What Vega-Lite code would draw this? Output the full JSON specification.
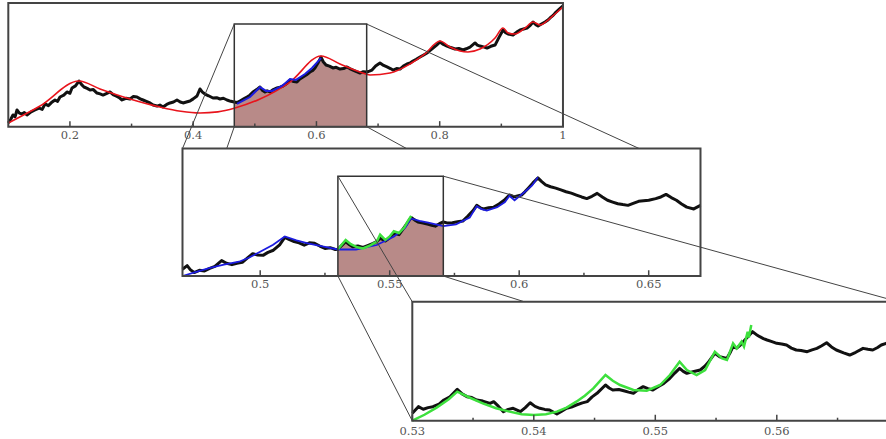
{
"$schema": "https://vega.github.io/schema/vega-lite/v6.json",
"width": 886, "height": 439, "autosize": "none", "padding": 0, "background": "white",
"config": {"view": {"stroke": null}, "text": {"font": "DejaVu Serif", "fontSize": 11.5, "color": "#555555", "baseline": "middle"}},
"datasets": {
"frame1": [{"x": 0.1, "x2": 1, "y": 0, "y2": 1}],
"box1": [{"x": 0.4667, "x2": 0.6815, "y": 0, "y2": 0.83}],
"frame2": [{"x": 0.47, "x2": 0.67, "y": 0, "y2": 1}],
"box2": [{"x": 0.53, "x2": 0.5707, "y": 0, "y2": 0.783}],
"frame3": [{"x": 0.53, "x2": 0.5702, "y": 0, "y2": 1}],
"lines1": [{"x": 0.4667, "y": 0.83, "x2": 0.3827, "y2": -0.1762}, {"x": 0.4667, "y": 0, "x2": 0.3827, "y2": -1.207}, {"x": 0.6815, "y": 0, "x2": 1.1235, "y2": -1.207}, {"x": 0.6815, "y": 0.83, "x2": 1.1235, "y2": -0.1762}],
"lines2": [{"x": 0.53, "y": 0.783, "x2": 0.5587, "y2": -0.2016}, {"x": 0.53, "y": 0, "x2": 0.5587, "y2": -1.1349}, {"x": 0.5707, "y": 0, "x2": 0.7463, "y2": -1.1349}, {"x": 0.5707, "y": 0.783, "x2": 0.7463, "y2": -0.2016}],
"lab1": [{"x": 0.2, "label": "0.2"}, {"x": 0.4, "label": "0.4"}, {"x": 0.6, "label": "0.6"}, {"x": 0.8, "label": "0.8"}, {"x": 1, "label": "1"}],
"min1": [{"x": 0.3}, {"x": 0.5}, {"x": 0.7}, {"x": 0.9}],
"lab2": [{"x": 0.5, "label": "0.5"}, {"x": 0.55, "label": "0.55"}, {"x": 0.6, "label": "0.6"}, {"x": 0.65, "label": "0.65"}],
"min2": [{"x": 0.525}, {"x": 0.575}, {"x": 0.625}],
"lab3": [{"x": 0.53, "label": "0.53"}, {"x": 0.54, "label": "0.54"}, {"x": 0.55, "label": "0.55"}, {"x": 0.56, "label": "0.56"}],
"min3": [{"x": 0.535}, {"x": 0.545}, {"x": 0.555}, {"x": 0.565}],
"p1k": [{"x":0.1,"y":0.03},{"x":0.104,"y":0.06},{"x":0.1076,"y":0.095},{"x":0.111,"y":0.08},{"x":0.1141,"y":0.135},{"x":0.118,"y":0.11},{"x":0.1222,"y":0.103},{"x":0.126,"y":0.115},{"x":0.1303,"y":0.095},{"x":0.137,"y":0.12},{"x":0.1433,"y":0.135},{"x":0.15,"y":0.15},{"x":0.155,"y":0.14},{"x":0.1596,"y":0.184},{"x":0.165,"y":0.17},{"x":0.17,"y":0.195},{"x":0.1758,"y":0.216},{"x":0.18,"y":0.205},{"x":0.1839,"y":0.24},{"x":0.19,"y":0.255},{"x":0.1952,"y":0.281},{"x":0.2,"y":0.27},{"x":0.2034,"y":0.313},{"x":0.209,"y":0.33},{"x":0.2147,"y":0.369},{"x":0.219,"y":0.34},{"x":0.2228,"y":0.321},{"x":0.228,"y":0.31},{"x":0.2326,"y":0.297},{"x":0.238,"y":0.3},{"x":0.2439,"y":0.272},{"x":0.249,"y":0.265},{"x":0.2537,"y":0.256},{"x":0.26,"y":0.27},{"x":0.265,"y":0.281},{"x":0.27,"y":0.26},{"x":0.2747,"y":0.248},{"x":0.28,"y":0.235},{"x":0.2845,"y":0.216},{"x":0.291,"y":0.23},{"x":0.2975,"y":0.224},{"x":0.303,"y":0.245},{"x":0.3088,"y":0.24},{"x":0.314,"y":0.225},{"x":0.3186,"y":0.216},{"x":0.324,"y":0.205},{"x":0.3299,"y":0.192},{"x":0.335,"y":0.175},{"x":0.3413,"y":0.167},{"x":0.346,"y":0.175},{"x":0.351,"y":0.159},{"x":0.357,"y":0.18},{"x":0.3624,"y":0.192},{"x":0.368,"y":0.2},{"x":0.3737,"y":0.216},{"x":0.379,"y":0.2},{"x":0.3835,"y":0.192},{"x":0.389,"y":0.2},{"x":0.3948,"y":0.208},{"x":0.4,"y":0.225},{"x":0.4062,"y":0.248},{"x":0.411,"y":0.305},{"x":0.415,"y":0.28},{"x":0.4191,"y":0.264},{"x":0.425,"y":0.25},{"x":0.4321,"y":0.232},{"x":0.438,"y":0.235},{"x":0.4435,"y":0.224},{"x":0.449,"y":0.23},{"x":0.4548,"y":0.216},{"x":0.461,"y":0.205},{"x":0.4667,"y":0.2},{"x":0.471,"y":0.195},{"x":0.4759,"y":0.208},{"x":0.482,"y":0.225},{"x":0.4873,"y":0.24},{"x":0.492,"y":0.255},{"x":0.497,"y":0.281},{"x":0.503,"y":0.3},{"x":0.5084,"y":0.321},{"x":0.512,"y":0.295},{"x":0.5165,"y":0.281},{"x":0.52,"y":0.29},{"x":0.5246,"y":0.281},{"x":0.53,"y":0.3},{"x":0.536,"y":0.313},{"x":0.541,"y":0.32},{"x":0.5457,"y":0.329},{"x":0.552,"y":0.35},{"x":0.5571,"y":0.378},{"x":0.563,"y":0.365},{"x":0.5684,"y":0.361},{"x":0.573,"y":0.385},{"x":0.5782,"y":0.402},{"x":0.584,"y":0.42},{"x":0.5895,"y":0.442},{"x":0.594,"y":0.455},{"x":0.5976,"y":0.475},{"x":0.603,"y":0.52},{"x":0.6074,"y":0.563},{"x":0.611,"y":0.525},{"x":0.6155,"y":0.499},{"x":0.621,"y":0.49},{"x":0.6268,"y":0.475},{"x":0.632,"y":0.48},{"x":0.6382,"y":0.466},{"x":0.644,"y":0.47},{"x":0.6495,"y":0.483},{"x":0.654,"y":0.47},{"x":0.6593,"y":0.458},{"x":0.665,"y":0.445},{"x":0.6706,"y":0.434},{"x":0.676,"y":0.445},{"x":0.6815,"y":0.442},{"x":0.686,"y":0.45},{"x":0.6901,"y":0.458},{"x":0.696,"y":0.49},{"x":0.7031,"y":0.515},{"x":0.709,"y":0.495},{"x":0.7145,"y":0.483},{"x":0.72,"y":0.47},{"x":0.7242,"y":0.458},{"x":0.73,"y":0.47},{"x":0.7356,"y":0.466},{"x":0.741,"y":0.49},{"x":0.7469,"y":0.507},{"x":0.752,"y":0.515},{"x":0.7566,"y":0.531},{"x":0.762,"y":0.545},{"x":0.768,"y":0.563},{"x":0.774,"y":0.58},{"x":0.7794,"y":0.596},{"x":0.784,"y":0.615},{"x":0.7891,"y":0.636},{"x":0.795,"y":0.66},{"x":0.8005,"y":0.685},{"x":0.806,"y":0.665},{"x":0.8118,"y":0.652},{"x":0.818,"y":0.64},{"x":0.8248,"y":0.628},{"x":0.831,"y":0.632},{"x":0.8378,"y":0.62},{"x":0.843,"y":0.63},{"x":0.8492,"y":0.644},{"x":0.8573,"y":0.677},{"x":0.861,"y":0.66},{"x":0.8654,"y":0.652},{"x":0.871,"y":0.645},{"x":0.8768,"y":0.636},{"x":0.883,"y":0.65},{"x":0.8898,"y":0.66},{"x":0.896,"y":0.72},{"x":0.9028,"y":0.782},{"x":0.907,"y":0.76},{"x":0.9109,"y":0.749},{"x":0.919,"y":0.741},{"x":0.925,"y":0.765},{"x":0.9304,"y":0.782},{"x":0.936,"y":0.79},{"x":0.9417,"y":0.798},{"x":0.947,"y":0.82},{"x":0.9515,"y":0.846},{"x":0.956,"y":0.825},{"x":0.9596,"y":0.814},{"x":0.965,"y":0.83},{"x":0.9709,"y":0.846},{"x":0.975,"y":0.86},{"x":0.979,"y":0.879},{"x":0.984,"y":0.9},{"x":0.9888,"y":0.927},{"x":0.994,"y":0.95},{"x":1.0,"y":0.976}],
"p1r": [{"x":0.1,"y":0.03},{"x":0.1514,"y":0.167},{"x":0.2147,"y":0.369},{"x":0.2488,"y":0.305},{"x":0.2975,"y":0.224},{"x":0.3461,"y":0.159},{"x":0.38,"y":0.125},{"x":0.411,"y":0.111},{"x":0.44,"y":0.12},{"x":0.4678,"y":0.151},{"x":0.5084,"y":0.224},{"x":0.5571,"y":0.361},{"x":0.6074,"y":0.572},{"x":0.6382,"y":0.507},{"x":0.6706,"y":0.442},{"x":0.6869,"y":0.418},{"x":0.7193,"y":0.434},{"x":0.7518,"y":0.507},{"x":0.7761,"y":0.588},{"x":0.8005,"y":0.693},{"x":0.8167,"y":0.644},{"x":0.8329,"y":0.612},{"x":0.8459,"y":0.604},{"x":0.8654,"y":0.628},{"x":0.8898,"y":0.717},{"x":0.9028,"y":0.798},{"x":0.9109,"y":0.757},{"x":0.9222,"y":0.749},{"x":0.9385,"y":0.798},{"x":0.9515,"y":0.846},{"x":0.9628,"y":0.822},{"x":0.9758,"y":0.862},{"x":0.9871,"y":0.911},{"x":1.0,"y":0.968}],
"p1b": [{"x":0.471,"y":0.184},{"x":0.4921,"y":0.24},{"x":0.5084,"y":0.321},{"x":0.5181,"y":0.289},{"x":0.5279,"y":0.289},{"x":0.5441,"y":0.329},{"x":0.5571,"y":0.386},{"x":0.5668,"y":0.378},{"x":0.5814,"y":0.426},{"x":0.5928,"y":0.475},{"x":0.6074,"y":0.555}],
"p2k": [{"x":0.47,"y":0.053},{"x":0.4718,"y":0.081},{"x":0.473,"y":0.05},{"x":0.4745,"y":0.027},{"x":0.4765,"y":0.045},{"x":0.4785,"y":0.04},{"x":0.4805,"y":0.06},{"x":0.4825,"y":0.075},{"x":0.4851,"y":0.121},{"x":0.487,"y":0.1},{"x":0.4891,"y":0.089},{"x":0.491,"y":0.1},{"x":0.4931,"y":0.107},{"x":0.495,"y":0.14},{"x":0.4971,"y":0.175},{"x":0.499,"y":0.165},{"x":0.5011,"y":0.162},{"x":0.503,"y":0.185},{"x":0.5051,"y":0.202},{"x":0.5075,"y":0.245},{"x":0.5095,"y":0.302},{"x":0.5113,"y":0.285},{"x":0.5131,"y":0.27},{"x":0.515,"y":0.26},{"x":0.517,"y":0.242},{"x":0.519,"y":0.26},{"x":0.521,"y":0.256},{"x":0.523,"y":0.235},{"x":0.525,"y":0.216},{"x":0.527,"y":0.222},{"x":0.529,"y":0.208},{"x":0.53,"y":0.21},{"x":0.5315,"y":0.24},{"x":0.533,"y":0.27},{"x":0.5345,"y":0.245},{"x":0.5357,"y":0.229},{"x":0.5377,"y":0.235},{"x":0.5397,"y":0.224},{"x":0.5417,"y":0.24},{"x":0.5436,"y":0.256},{"x":0.545,"y":0.27},{"x":0.5463,"y":0.296},{"x":0.5483,"y":0.275},{"x":0.55,"y":0.3},{"x":0.5516,"y":0.337},{"x":0.5536,"y":0.324},{"x":0.5552,"y":0.37},{"x":0.5569,"y":0.418},{"x":0.5583,"y":0.459},{"x":0.5596,"y":0.44},{"x":0.5609,"y":0.424},{"x":0.5629,"y":0.415},{"x":0.5649,"y":0.405},{"x":0.5662,"y":0.398},{"x":0.5676,"y":0.391},{"x":0.5692,"y":0.41},{"x":0.5707,"y":0.424},{"x":0.5725,"y":0.415},{"x":0.5742,"y":0.418},{"x":0.5762,"y":0.425},{"x":0.5782,"y":0.431},{"x":0.5802,"y":0.47},{"x":0.5822,"y":0.513},{"x":0.5836,"y":0.554},{"x":0.585,"y":0.535},{"x":0.5862,"y":0.526},{"x":0.5882,"y":0.535},{"x":0.5902,"y":0.54},{"x":0.5922,"y":0.565},{"x":0.5942,"y":0.594},{"x":0.5962,"y":0.635},{"x":0.5982,"y":0.621},{"x":0.6009,"y":0.635},{"x":0.6022,"y":0.66},{"x":0.6035,"y":0.689},{"x":0.6053,"y":0.73},{"x":0.6072,"y":0.769},{"x":0.6087,"y":0.74},{"x":0.6102,"y":0.715},{"x":0.6121,"y":0.7},{"x":0.6141,"y":0.689},{"x":0.6161,"y":0.675},{"x":0.6181,"y":0.661},{"x":0.6201,"y":0.65},{"x":0.6221,"y":0.635},{"x":0.6241,"y":0.62},{"x":0.6261,"y":0.607},{"x":0.6281,"y":0.625},{"x":0.6301,"y":0.648},{"x":0.6321,"y":0.62},{"x":0.6341,"y":0.594},{"x":0.6361,"y":0.58},{"x":0.6381,"y":0.567},{"x":0.64,"y":0.56},{"x":0.642,"y":0.554},{"x":0.644,"y":0.57},{"x":0.6461,"y":0.586},{"x":0.648,"y":0.59},{"x":0.65,"y":0.594},{"x":0.6527,"y":0.607},{"x":0.6547,"y":0.62},{"x":0.6567,"y":0.64},{"x":0.6587,"y":0.615},{"x":0.6607,"y":0.594},{"x":0.6627,"y":0.565},{"x":0.6647,"y":0.54},{"x":0.6674,"y":0.526},{"x":0.67,"y":0.554}],
"p2b": [{"x":0.47,"y":0.0},{"x":0.475,"y":0.03},{"x":0.4806,"y":0.063},{"x":0.486,"y":0.09},{"x":0.4918,"y":0.112},{"x":0.4958,"y":0.145},{"x":0.4998,"y":0.188},{"x":0.505,"y":0.245},{"x":0.5095,"y":0.31},{"x":0.514,"y":0.28},{"x":0.5184,"y":0.256},{"x":0.525,"y":0.229},{"x":0.53,"y":0.208},{"x":0.537,"y":0.208},{"x":0.545,"y":0.243},{"x":0.5517,"y":0.31},{"x":0.556,"y":0.38},{"x":0.5582,"y":0.451},{"x":0.5615,"y":0.432},{"x":0.5649,"y":0.418},{"x":0.5707,"y":0.391},{"x":0.5756,"y":0.405},{"x":0.5809,"y":0.459},{"x":0.5836,"y":0.548},{"x":0.5855,"y":0.525},{"x":0.5875,"y":0.513},{"x":0.5915,"y":0.54},{"x":0.5945,"y":0.58},{"x":0.5962,"y":0.629},{"x":0.5982,"y":0.594},{"x":0.6022,"y":0.661},{"x":0.605,"y":0.71},{"x":0.6072,"y":0.775}],
"p2g": [{"x":0.53,"y":0.21},{"x":0.533,"y":0.283},{"x":0.535,"y":0.25},{"x":0.5375,"y":0.225},{"x":0.5397,"y":0.216},{"x":0.5425,"y":0.24},{"x":0.545,"y":0.27},{"x":0.5463,"y":0.324},{"x":0.5483,"y":0.283},{"x":0.55,"y":0.31},{"x":0.5516,"y":0.351},{"x":0.5536,"y":0.337},{"x":0.5556,"y":0.38},{"x":0.557,"y":0.43},{"x":0.5583,"y":0.472}],
"p3k": [{"x":0.53,"y":0.062},{"x":0.5305,"y":0.118},{"x":0.5309,"y":0.096},{"x":0.5313,"y":0.11},{"x":0.5317,"y":0.118},{"x":0.5322,"y":0.14},{"x":0.5326,"y":0.174},{"x":0.5331,"y":0.2},{"x":0.5337,"y":0.264},{"x":0.5341,"y":0.225},{"x":0.5345,"y":0.202},{"x":0.5349,"y":0.195},{"x":0.5353,"y":0.174},{"x":0.5358,"y":0.165},{"x":0.5364,"y":0.146},{"x":0.5367,"y":0.16},{"x":0.5371,"y":0.12},{"x":0.5375,"y":0.076},{"x":0.5379,"y":0.095},{"x":0.5383,"y":0.104},{"x":0.5389,"y":0.076},{"x":0.5393,"y":0.11},{"x":0.5397,"y":0.151},{"x":0.5401,"y":0.12},{"x":0.5405,"y":0.104},{"x":0.5409,"y":0.095},{"x":0.5413,"y":0.09},{"x":0.5419,"y":0.056},{"x":0.5423,"y":0.08},{"x":0.5427,"y":0.104},{"x":0.5431,"y":0.115},{"x":0.5435,"y":0.132},{"x":0.544,"y":0.15},{"x":0.5444,"y":0.16},{"x":0.5448,"y":0.2},{"x":0.5452,"y":0.23},{"x":0.5459,"y":0.3},{"x":0.5462,"y":0.275},{"x":0.5465,"y":0.258},{"x":0.547,"y":0.262},{"x":0.5474,"y":0.252},{"x":0.5478,"y":0.24},{"x":0.5482,"y":0.23},{"x":0.5486,"y":0.262},{"x":0.549,"y":0.286},{"x":0.5494,"y":0.27},{"x":0.5498,"y":0.258},{"x":0.5503,"y":0.29},{"x":0.5507,"y":0.314},{"x":0.5512,"y":0.356},{"x":0.5516,"y":0.4},{"x":0.552,"y":0.44},{"x":0.5523,"y":0.415},{"x":0.5526,"y":0.398},{"x":0.5531,"y":0.412},{"x":0.5537,"y":0.426},{"x":0.5541,"y":0.46},{"x":0.5544,"y":0.496},{"x":0.5549,"y":0.566},{"x":0.5553,"y":0.538},{"x":0.5559,"y":0.524},{"x":0.5562,"y":0.58},{"x":0.5564,"y":0.622},{"x":0.5567,"y":0.61},{"x":0.557,"y":0.636},{"x":0.5575,"y":0.692},{"x":0.558,"y":0.748},{"x":0.5583,"y":0.725},{"x":0.5586,"y":0.706},{"x":0.5589,"y":0.69},{"x":0.5592,"y":0.678},{"x":0.5596,"y":0.665},{"x":0.56,"y":0.65},{"x":0.5604,"y":0.645},{"x":0.5608,"y":0.636},{"x":0.5612,"y":0.61},{"x":0.5616,"y":0.594},{"x":0.562,"y":0.59},{"x":0.5625,"y":0.58},{"x":0.5629,"y":0.595},{"x":0.5633,"y":0.608},{"x":0.5637,"y":0.63},{"x":0.5641,"y":0.655},{"x":0.5645,"y":0.62},{"x":0.5649,"y":0.594},{"x":0.5655,"y":0.57},{"x":0.566,"y":0.552},{"x":0.5665,"y":0.575},{"x":0.5671,"y":0.608},{"x":0.5675,"y":0.6},{"x":0.5679,"y":0.594},{"x":0.5683,"y":0.615},{"x":0.5686,"y":0.636},{"x":0.569,"y":0.65},{"x":0.57,"y":0.66}],
"p3g": [{"x":0.53,"y":0.0},{"x":0.531,"y":0.05},{"x":0.532,"y":0.11},{"x":0.533,"y":0.18},{"x":0.5337,"y":0.244},{"x":0.5347,"y":0.195},{"x":0.5358,"y":0.146},{"x":0.5369,"y":0.105},{"x":0.538,"y":0.076},{"x":0.539,"y":0.055},{"x":0.54,"y":0.048},{"x":0.541,"y":0.055},{"x":0.5419,"y":0.076},{"x":0.5427,"y":0.11},{"x":0.5435,"y":0.16},{"x":0.5442,"y":0.21},{"x":0.5449,"y":0.272},{"x":0.5459,"y":0.384},{"x":0.5465,"y":0.335},{"x":0.5471,"y":0.3},{"x":0.5482,"y":0.258},{"x":0.5493,"y":0.252},{"x":0.5504,"y":0.3},{"x":0.5512,"y":0.384},{"x":0.552,"y":0.496},{"x":0.5526,"y":0.426},{"x":0.5534,"y":0.384},{"x":0.5541,"y":0.426},{"x":0.5549,"y":0.58},{"x":0.5555,"y":0.524},{"x":0.5559,"y":0.51},{"x":0.5564,"y":0.65},{"x":0.5567,"y":0.608},{"x":0.5571,"y":0.664},{"x":0.5573,"y":0.622},{"x":0.5576,"y":0.748},{"x":0.5577,"y":0.7},{"x":0.5579,"y":0.804}]
},
"resolve": {"scale": {"x": "independent", "y": "independent"}},
"layer": [
{
"encoding": {
"x": {"field": "x", "type": "quantitative", "scale": {"domain": [0.086533, 1.524145], "zero": false, "nice": false}, "axis": null}
},
"layer": [
{"data": {"name": "p1k"}, "transform": [{"filter": "datum.x >= 0.4667 && datum.x <= 0.6815"}], "mark": {"type": "area", "color": "#b88a88"}, "encoding": {"y": {"field": "y", "type": "quantitative", "scale": {"domain": [-2.5247, 1.0243], "zero": false, "nice": false}, "axis": null}, "y2": {"datum": 0}}},
{"data": {"name": "p1k"}, "mark": {"type": "line", "color": "#111111", "strokeWidth": 3, "strokeJoin": "round"}, "encoding": {"y": {"field": "y", "type": "quantitative", "scale": {"domain": [-2.5247, 1.0243], "zero": false, "nice": false}, "axis": null}}},
{"data": {"name": "p1r"}, "mark": {"type": "line", "color": "#e8141c", "strokeWidth": 1.6, "interpolate": "monotone"}, "encoding": {"y": {"field": "y", "type": "quantitative", "scale": {"domain": [-2.5247, 1.0243], "zero": false, "nice": false}, "axis": null}}},
{"data": {"name": "p1b"}, "mark": {"type": "line", "color": "#1c1ce0", "strokeWidth": 2}, "encoding": {"y": {"field": "y", "type": "quantitative", "scale": {"domain": [-2.5247, 1.0243], "zero": false, "nice": false}, "axis": null}}},
{"data": {"name": "box1"}, "mark": {"type": "rect", "fill": "white", "fillOpacity": 0, "stroke": "#333333", "strokeWidth": 1.5}, "encoding": {"y": {"field": "y", "type": "quantitative", "scale": {"domain": [-2.5247, 1.0243], "zero": false, "nice": false}, "axis": null}, "x2": {"field": "x2"}, "y2": {"field": "y2"}}},
{"data": {"name": "frame1"}, "mark": {"type": "rect", "fill": "white", "fillOpacity": 0, "stroke": "#444444", "strokeWidth": 2}, "encoding": {"y": {"field": "y", "type": "quantitative", "scale": {"domain": [-2.5247, 1.0243], "zero": false, "nice": false}, "axis": null}, "x2": {"field": "x2"}, "y2": {"field": "y2"}}},
{"data": {"name": "lab1"}, "mark": {"type": "rule", "color": "#444444", "strokeWidth": 1.5}, "encoding": {"y": {"datum": 0, "type": "quantitative", "scale": {"domain": [-2.5247, 1.0243], "zero": false, "nice": false}, "axis": null}, "y2": {"datum": 0.045}}},
{"data": {"name": "min1"}, "mark": {"type": "rule", "color": "#444444", "strokeWidth": 1.5}, "encoding": {"y": {"datum": 0, "type": "quantitative", "scale": {"domain": [-2.5247, 1.0243], "zero": false, "nice": false}, "axis": null}, "y2": {"datum": 0.025}}},
{"data": {"name": "lab1"}, "mark": {"type": "text", "dy": 9.5}, "encoding": {"y": {"datum": 0, "type": "quantitative", "scale": {"domain": [-2.5247, 1.0243], "zero": false, "nice": false}, "axis": null}, "text": {"field": "label"}}},
{"data": {"name": "lines1"}, "mark": {"type": "rule", "color": "#444444", "strokeWidth": 1}, "encoding": {"y": {"field": "y", "type": "quantitative", "scale": {"domain": [-2.5247, 1.0243], "zero": false, "nice": false}, "axis": null}, "x2": {"field": "x2"}, "y2": {"field": "y2"}}}
]
},
{
"encoding": {
"x": {"field": "x", "type": "quantitative", "scale": {"domain": [0.399537, 0.741622], "zero": false, "nice": false}, "axis": null}
},
"layer": [
{"data": {"name": "frame2"}, "mark": {"type": "rect", "fill": "white", "stroke": null}, "encoding": {"y": {"field": "y", "type": "quantitative", "scale": {"domain": [-1.27843, 2.16471], "zero": false, "nice": false}, "axis": null}, "x2": {"field": "x2"}, "y2": {"field": "y2"}}},
{"data": {"name": "p2k"}, "transform": [{"filter": "datum.x >= 0.53 && datum.x <= 0.5707"}], "mark": {"type": "area", "color": "#b88a88"}, "encoding": {"y": {"field": "y", "type": "quantitative", "scale": {"domain": [-1.27843, 2.16471], "zero": false, "nice": false}, "axis": null}, "y2": {"datum": 0}}},
{"data": {"name": "p2k"}, "mark": {"type": "line", "color": "#111111", "strokeWidth": 3, "strokeJoin": "round"}, "encoding": {"y": {"field": "y", "type": "quantitative", "scale": {"domain": [-1.27843, 2.16471], "zero": false, "nice": false}, "axis": null}}},
{"data": {"name": "p2b"}, "mark": {"type": "line", "color": "#1c1ce0", "strokeWidth": 1.8}, "encoding": {"y": {"field": "y", "type": "quantitative", "scale": {"domain": [-1.27843, 2.16471], "zero": false, "nice": false}, "axis": null}}},
{"data": {"name": "p2g"}, "mark": {"type": "line", "color": "#3de03d", "strokeWidth": 2.5}, "encoding": {"y": {"field": "y", "type": "quantitative", "scale": {"domain": [-1.27843, 2.16471], "zero": false, "nice": false}, "axis": null}}},
{"data": {"name": "box2"}, "mark": {"type": "rect", "fill": "white", "fillOpacity": 0, "stroke": "#333333", "strokeWidth": 1.5}, "encoding": {"y": {"field": "y", "type": "quantitative", "scale": {"domain": [-1.27843, 2.16471], "zero": false, "nice": false}, "axis": null}, "x2": {"field": "x2"}, "y2": {"field": "y2"}}},
{"data": {"name": "frame2"}, "mark": {"type": "rect", "fill": "white", "fillOpacity": 0, "stroke": "#444444", "strokeWidth": 2}, "encoding": {"y": {"field": "y", "type": "quantitative", "scale": {"domain": [-1.27843, 2.16471], "zero": false, "nice": false}, "axis": null}, "x2": {"field": "x2"}, "y2": {"field": "y2"}}},
{"data": {"name": "lab2"}, "mark": {"type": "rule", "color": "#444444", "strokeWidth": 1.5}, "encoding": {"y": {"datum": 0, "type": "quantitative", "scale": {"domain": [-1.27843, 2.16471], "zero": false, "nice": false}, "axis": null}, "y2": {"datum": 0.045}}},
{"data": {"name": "min2"}, "mark": {"type": "rule", "color": "#444444", "strokeWidth": 1.5}, "encoding": {"y": {"datum": 0, "type": "quantitative", "scale": {"domain": [-1.27843, 2.16471], "zero": false, "nice": false}, "axis": null}, "y2": {"datum": 0.025}}},
{"data": {"name": "lab2"}, "mark": {"type": "text", "dy": 9}, "encoding": {"y": {"datum": 0, "type": "quantitative", "scale": {"domain": [-1.27843, 2.16471], "zero": false, "nice": false}, "axis": null}, "text": {"field": "label"}}},
{"data": {"name": "lines2"}, "mark": {"type": "rule", "color": "#444444", "strokeWidth": 1, "clip": true}, "encoding": {"y": {"field": "y", "type": "quantitative", "scale": {"domain": [-1.27843, 2.16471], "zero": false, "nice": false}, "axis": null}, "x2": {"field": "x2"}, "y2": {"field": "y2"}}}
]
},
{
"encoding": {
"x": {"field": "x", "type": "quantitative", "scale": {"domain": [0.496066, 0.568988], "zero": false, "nice": false}, "axis": null}
},
"layer": [
{"data": {"name": "frame3"}, "mark": {"type": "rect", "fill": "white", "stroke": null, "clip": true}, "encoding": {"y": {"field": "y", "type": "quantitative", "scale": {"domain": [-0.15378, 3.53529], "zero": false, "nice": false}, "axis": null}, "x2": {"field": "x2"}, "y2": {"field": "y2"}}},
{"data": {"name": "p3k"}, "mark": {"type": "line", "color": "#111111", "strokeWidth": 3, "strokeJoin": "round", "clip": true}, "encoding": {"y": {"field": "y", "type": "quantitative", "scale": {"domain": [-0.15378, 3.53529], "zero": false, "nice": false}, "axis": null}}},
{"data": {"name": "p3g"}, "mark": {"type": "line", "color": "#3de03d", "strokeWidth": 2.5, "clip": true}, "encoding": {"y": {"field": "y", "type": "quantitative", "scale": {"domain": [-0.15378, 3.53529], "zero": false, "nice": false}, "axis": null}}},
{"data": {"name": "frame3"}, "mark": {"type": "rect", "fill": "white", "fillOpacity": 0, "stroke": "#444444", "strokeWidth": 2, "clip": true}, "encoding": {"y": {"field": "y", "type": "quantitative", "scale": {"domain": [-0.15378, 3.53529], "zero": false, "nice": false}, "axis": null}, "x2": {"field": "x2"}, "y2": {"field": "y2"}}},
{"data": {"name": "lab3"}, "mark": {"type": "rule", "color": "#444444", "strokeWidth": 1.5}, "encoding": {"y": {"datum": 0, "type": "quantitative", "scale": {"domain": [-0.15378, 3.53529], "zero": false, "nice": false}, "axis": null}, "y2": {"datum": 0.05}}},
{"data": {"name": "min3"}, "mark": {"type": "rule", "color": "#444444", "strokeWidth": 1.5}, "encoding": {"y": {"datum": 0, "type": "quantitative", "scale": {"domain": [-0.15378, 3.53529], "zero": false, "nice": false}, "axis": null}, "y2": {"datum": 0.025}}},
{"data": {"name": "lab3"}, "mark": {"type": "text", "dy": 11}, "encoding": {"y": {"datum": 0, "type": "quantitative", "scale": {"domain": [-0.15378, 3.53529], "zero": false, "nice": false}, "axis": null}, "text": {"field": "label"}}}
]
}
]
}
